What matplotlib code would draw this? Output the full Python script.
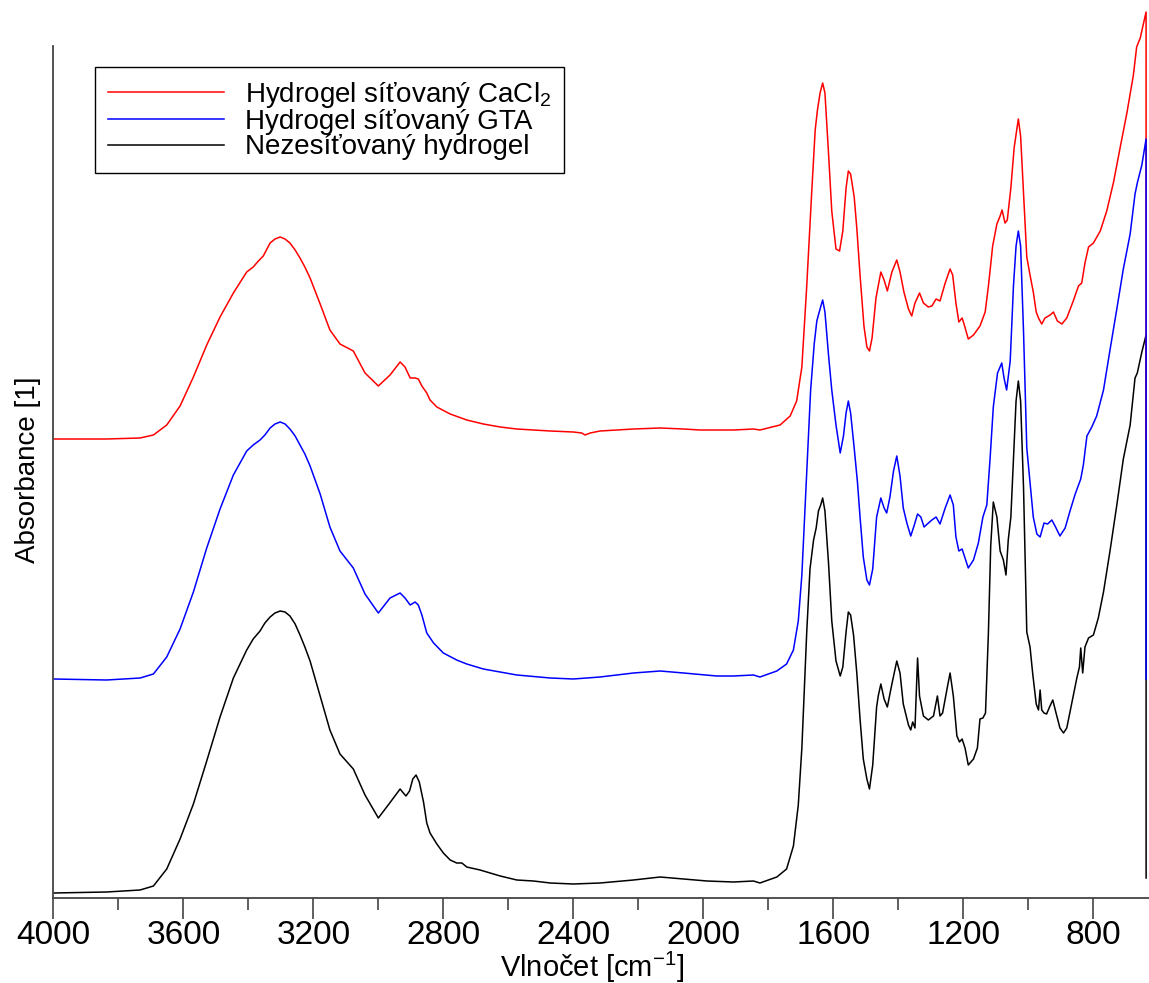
import matplotlib
matplotlib.use("Agg")
from matplotlib import pyplot as plt
from matplotlib.ticker import MultipleLocator

plt.rcParams['font.family'] = ['Liberation Sans', 'DejaVu Sans']
plt.rcParams['mathtext.fontset'] = 'custom'
plt.rcParams['mathtext.rm'] = 'Liberation Sans'

# FTIR spectra, values (shifted absorbance as drawn)
wn_cacl2 = [4000, 3836, 3733, 3692, 3651, 3610, 3569, 3528, 3487, 3446, 3405, 3385, 3369, 3354, 3333,
            3318, 3302, 3287, 3272, 3256, 3241, 3226, 3210, 3179, 3149, 3118, 3077, 3041, 3000, 2964,
            2933, 2918, 2902, 2887, 2877, 2866,
            2851, 2841, 2820, 2779, 2728, 2677, 2625, 2574, 2471, 2400, 2374, 2364, 2348, 2318, 2215,
            2133, 2061, 2010, 1907, 1846, 1826, 1764, 1733, 1713, 1697, 1682, 1667, 1656, 1649, 1641,
            1633, 1626, 1615, 1605, 1592, 1581, 1571, 1561, 1554, 1547, 1536, 1528, 1518, 1506, 1497,
            1489, 1481, 1469, 1454, 1444, 1434, 1420, 1405, 1395, 1383, 1369, 1359, 1349, 1335, 1323,
            1308, 1297, 1284, 1272, 1256, 1241, 1233, 1223, 1214, 1204, 1198, 1185, 1169, 1149, 1133,
            1123, 1110, 1097, 1087, 1081, 1072, 1065, 1054, 1044, 1031, 1024, 1013, 1005, 995, 985,
            976, 969, 959, 949, 933, 923, 911, 897, 882, 862, 846, 836, 826, 815, 800,
            779, 759, 738, 718, 697, 677, 667, 656, 638, 637.9]
abs_cacl2 = [.459, .459, .460, .463, .473, .492, .521, .553, .581, .605, .626, .631, .637, .642, .655,
             .659, .661, .659, .655, .648, .640, .631, .620, .594, .568, .554, .547, .525, .512, .523,
             .536, .531, .520, .520, .519, .512,
             .505, .498, .491, .484, .478, .474, .471, .469, .467, .466, .465, .463, .465, .467, .469,
             .470, .469, .468, .468, .469, .468, .473, .482, .497, .531, .612, .704, .768, .788, .805,
             .815, .805, .745, .687, .649, .647, .667, .710, .727, .724, .701, .670, .623, .572, .551,
             .547, .560, .600, .626, .618, .607, .626, .638, .626, .606, .589, .582, .595, .605, .595,
             .591, .592, .599, .597, .615, .629, .623, .595, .576, .580, .574, .559, .563, .572, .586,
             .612, .652, .674, .682, .688, .675, .678, .710, .750, .779, .762, .693, .641, .623, .606,
             .586, .580, .574, .580, .583, .586, .577, .574, .580, .597, .612, .615, .635, .651, .655,
             .667, .687, .716, .750, .785, .823, .851, .860, .886, .459]

wn_gta = [4000, 3836, 3733, 3692, 3651, 3610, 3569, 3528, 3487, 3446, 3405, 3385, 3364, 3349, 3333,
          3318, 3302, 3287, 3272, 3256, 3241, 3226, 3210, 3179, 3149, 3118, 3077, 3041, 3000, 2964,
          2933, 2918, 2902, 2887, 2877, 2866,
          2851, 2830, 2800, 2759, 2728, 2677, 2625, 2574, 2471, 2400, 2318, 2215, 2133, 2061, 1959,
          1907, 1846, 1826, 1774, 1744, 1723, 1708, 1697, 1682, 1670, 1659, 1651, 1641, 1633, 1626,
          1615, 1605, 1592, 1579, 1569, 1561, 1554, 1547, 1536, 1526, 1518, 1508, 1497, 1489, 1479,
          1467, 1454, 1444, 1436, 1426, 1415, 1405, 1395, 1385, 1374, 1362, 1352, 1341, 1331, 1321,
          1311, 1297, 1284, 1272, 1256, 1241, 1231, 1223, 1214, 1204, 1196, 1185, 1169, 1154, 1140,
          1128, 1118, 1108, 1095, 1082, 1075, 1067, 1056, 1046, 1038, 1031, 1024, 1015, 1005, 995,
          985, 974, 964, 952, 941, 928, 918, 903, 887, 872, 856, 839, 831, 820, 805,
          790, 769, 749, 728, 708, 687, 672, 665, 651, 638, 637.9]
abs_gta = [.219, .218, .220, .224, .241, .269, .306, .350, .389, .423, .447, .453, .458, .463, .470,
           .474, .476, .474, .469, .462, .453, .444, .432, .404, .371, .347, .330, .304, .285, .300,
           .305, .300, .293, .296, .293, .283,
           .265, .255, .245, .238, .234, .229, .226, .223, .220, .219, .221, .225, .227, .225, .222,
           .222, .223, .221, .227, .234, .248, .277, .323, .427, .508, .554, .577, .589, .598, .586,
           .543, .508, .473, .445, .462, .485, .497, .485, .450, .416, .381, .341, .318, .313, .329,
           .381, .400, .390, .385, .401, .427, .442, .422, .390, .375, .362, .372, .384, .381, .371,
           .374, .378, .381, .374, .390, .403, .393, .361, .347, .349, .341, .330, .338, .355, .381,
           .393, .439, .491, .525, .535, .520, .508, .537, .612, .652, .667, .652, .566, .450, .416,
           .381, .364, .361, .375, .374, .378, .372, .362, .370, .387, .404, .419, .433, .462, .471,
           .482, .508, .548, .589, .629, .664, .704, .715, .733, .759, .219]

wn_plain = [4000, 3836, 3733, 3692, 3651, 3610, 3569, 3528, 3487, 3446, 3405, 3385, 3364, 3349, 3333,
            3318, 3302, 3287, 3272, 3256, 3241, 3226, 3210, 3179, 3149, 3118, 3077, 3041, 3000, 2965,
            2933, 2923, 2915, 2904, 2894, 2884,
            2874, 2861, 2851, 2841, 2820, 2800, 2779, 2759, 2743, 2728, 2687, 2625, 2574, 2523, 2471,
            2400, 2318, 2215, 2133, 2061, 1989, 1907, 1846, 1826, 1774, 1744, 1723, 1708, 1697, 1682,
            1672, 1661, 1653, 1646, 1639, 1633, 1626, 1615, 1605, 1592, 1579, 1571, 1561, 1554, 1547,
            1538, 1528, 1518, 1508, 1497, 1489, 1479, 1467, 1462, 1454, 1444, 1434, 1420, 1405, 1395,
            1385, 1369, 1362, 1356, 1349, 1341, 1335, 1323, 1308, 1292, 1280, 1272, 1264, 1251, 1241,
            1231, 1220, 1212, 1204, 1195, 1185, 1169, 1157, 1149, 1140, 1132, 1123, 1116, 1108, 1097,
            1087, 1077, 1069, 1062, 1054, 1046, 1038, 1031, 1024, 1015, 1005, 995, 987, 976, 969,
            964, 959, 952, 944, 935, 925, 915, 903, 892, 882, 867, 851, 843, 839, 833,
            826, 815, 800, 785, 769, 749, 728, 708, 687, 672, 665, 651, 638, 637.9]
abs_plain = [.005, .006, .008, .012, .029, .059, .094, .137, .181, .220, .248, .259, .267, .275, .281,
             .285, .287, .286, .282, .274, .263, .251, .237, .202, .168, .144, .129, .103, .080, .095,
             .109, .105, .102, .107, .119, .123,
             .116, .096, .075, .065, .054, .045, .038, .035, .035, .031, .028, .022, .018, .017, .015,
             .014, .015, .018, .021, .019, .017, .016, .017, .015, .021, .029, .052, .093, .150, .266,
             .329, .358, .370, .387, .393, .400, .387, .335, .277, .237, .222, .231, .266, .286, .283,
             .263, .225, .179, .139, .119, .109, .133, .191, .202, .214, .199, .191, .214, .237, .225,
             .194, .173, .168, .176, .170, .240, .202, .182, .178, .182, .202, .182, .185, .208, .225,
             .202, .162, .156, .159, .150, .133, .139, .150, .179, .180, .185, .266, .352, .396, .381,
             .347, .338, .323, .358, .381, .439, .497, .517, .497, .410, .266, .251, .225, .194, .188,
             .208, .188, .185, .184, .191, .198, .185, .170, .165, .170, .194, .220, .231, .250, .225,
             .251, .260, .263, .280, .306, .347, .393, .439, .473, .520, .525, .546, .563, .020]

labels = ['Hydrogel síťovaný CaCl$\\mathregular{_2}$', 'Hydrogel síťovaný GTA', 'Nezesíťovaný hydrogel']

W, H = 1149, 983
fig = plt.figure(figsize=(W / 100, H / 100), dpi=100)
ax = fig.add_axes([53.3 / W, (H - 898) / H, (W - 53.3) / W, 898 / H])

l3, = ax.plot(wn_plain, abs_plain, color='black', lw=1.1)
l1, = ax.plot(wn_cacl2, abs_cacl2, color='#ff0000', lw=1.1)
l2, = ax.plot(wn_gta, abs_gta, color='#0000ff', lw=1.1)

ax.set_xlim(4000, 629)
ax.set_ylim(0, 0.898)

for s in ['top', 'right']:
    ax.spines[s].set_visible(False)
for s in ['left', 'bottom']:
    ax.spines[s].set_color('#444444')
    ax.spines[s].set_linewidth(1.3)
ax.spines['left'].set_bounds(0, 0.852)

ax.set_yticks([])
ax.xaxis.set_major_locator(MultipleLocator(400))
ax.xaxis.set_minor_locator(MultipleLocator(200))
ax.tick_params(axis='x', which='major', direction='out', length=15, width=1.2,
               color='#444444', labelsize=24, pad=1)
ax.tick_params(axis='x', which='minor', direction='out', length=8.5, width=1.2, color='#444444')

fig.text(592 / W, 1 - 977 / H, 'Vlnočet [cm$\\mathregular{^{-1}}$]', fontsize=21,
         ha='center', va='baseline')
fig.text(28 / W, 1 - 470 / H, 'Absorbance [1]', fontsize=20, rotation=90,
         ha='center', va='center')

leg = ax.legend(handles=[l1, l2, l3], labels=labels, loc='upper left',
                bbox_to_anchor=(95 / W, 1 - 67 / H), bbox_transform=fig.transFigure,
                borderaxespad=0, fontsize=20, fancybox=False, framealpha=1,
                edgecolor='black', handlelength=4.2, handletextpad=0.75,
                labelspacing=-0.02, borderpad=0.45)
leg.get_frame().set_linewidth(1.0)

fig.savefig('out.png', dpi=100)
